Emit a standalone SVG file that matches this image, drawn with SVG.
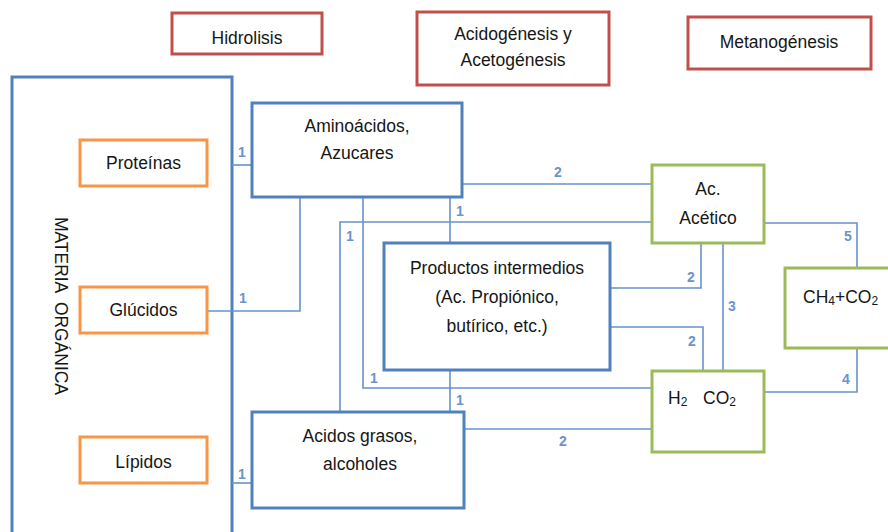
<svg xmlns="http://www.w3.org/2000/svg" width="888" height="532" viewBox="0 0 888 532">
<style>
.bb{fill:#fff;stroke:#4F81BD;stroke-width:3}
.ob{fill:#fff;stroke:#F79646;stroke-width:3}
.gb{fill:#fff;stroke:#9BBB59;stroke-width:3}
.rb{fill:#fff;stroke:#C0504D;stroke-width:3}
.t{font-family:"Liberation Sans",Arial,sans-serif;font-size:17.5px;fill:#161616;text-anchor:middle}
.tl{font-family:"Liberation Sans",Arial,sans-serif;font-size:17.5px;fill:#161616}
.c{fill:none;stroke:#6792CE;stroke-width:1.6}
.n{font-family:"Liberation Sans",Arial,sans-serif;font-size:14px;font-weight:bold;fill:#6B93CC}
</style>
<rect width="888" height="532" fill="#fff"/>
<g id="hidrolisis"><rect class="rb" x="172" y="13" width="150" height="41"/><text class="t" x="247" y="44">Hidrolisis</text></g>
<g id="acidogenesis"><rect class="rb" x="417" y="12" width="192" height="73"/><text class="t" x="513" y="40">Acidogénesis y</text><text class="t" x="513" y="66">Acetogénesis</text></g>
<g id="metanogenesis"><rect class="rb" x="688" y="17" width="183" height="52"/><text class="t" x="779" y="48">Metanogénesis</text></g>
<g id="materia"><rect class="bb" x="12" y="77" width="220" height="470"/><text class="tl" transform="translate(55,217) rotate(90)" x="0" y="0" font-size="16" textLength="178" lengthAdjust="spacing" xml:space="preserve">MATERIA  ORGÁNICA</text></g>
<g id="connectors">
<path class="c" d="M232 165H252"/>
<path class="c" d="M207 311H300V197"/>
<path class="c" d="M232 483H252"/>
<path class="c" d="M462 184H652"/>
<path class="c" d="M363 197V388H652"/>
<path class="c" d="M450 197V243"/>
<path class="c" d="M340 412V222H652"/>
<path class="c" d="M450 370V412"/>
<path class="c" d="M610 288H701V243"/>
<path class="c" d="M610 327H703V371"/>
<path class="c" d="M723 243V371"/>
<path class="c" d="M764 223H857V268"/>
<path class="c" d="M764 392H857V348"/>
<path class="c" d="M464 429H652"/>
<text class="n" x="238" y="157">1</text>
<text class="n" x="239" y="303">1</text>
<text class="n" x="238" y="479">1</text>
<text class="n" x="370" y="383">1</text>
<text class="n" x="456" y="405">1</text>
<text class="n" x="346" y="241">1</text>
<text class="n" x="456" y="216">1</text>
<text class="n" x="554" y="177">2</text>
<text class="n" x="687" y="282">2</text>
<text class="n" x="688" y="346">2</text>
<text class="n" x="728" y="311">3</text>
<text class="n" x="844" y="241">5</text>
<text class="n" x="842" y="384">4</text>
<text class="n" x="559" y="446">2</text>
</g>
<g id="proteinas"><rect class="ob" x="80" y="140" width="127" height="46"/><text class="t" x="143.5" y="169">Proteínas</text></g>
<g id="glucidos"><rect class="ob" x="80" y="287" width="127" height="46"/><text class="t" x="143.5" y="316">Glúcidos</text></g>
<g id="lipidos"><rect class="ob" x="80" y="437" width="127" height="46"/><text class="t" x="143.5" y="468">Lípidos</text></g>
<g id="aminoacidos"><rect class="bb" x="252" y="103" width="210" height="94"/><text class="t" x="357" y="132">Aminoácidos,</text><text class="t" x="357" y="159">Azucares</text></g>
<g id="productos"><rect class="bb" x="384" y="243" width="226" height="127"/><text class="t" x="497" y="274">Productos intermedios</text><text class="t" x="497" y="303">(Ac. Propiónico,</text><text class="t" x="497" y="332">butírico, etc.)</text></g>
<g id="acidos"><rect class="bb" x="252" y="412" width="212" height="96"/><text class="t" x="360" y="442">Acidos grasos,</text><text class="t" x="360" y="470">alcoholes</text></g>
<g id="acetico"><rect class="gb" x="652" y="165" width="112" height="78"/><text class="t" x="708" y="195">Ac.</text><text class="t" x="708" y="224">Acético</text></g>
<g id="h2co2"><rect class="gb" x="652" y="371" width="112" height="81"/><text class="tl" x="668" y="404">H<tspan font-size="12" dy="2">2</tspan></text><text class="tl" x="703" y="404">CO<tspan font-size="12" dy="2">2</tspan></text></g>
<g id="ch4co2"><rect class="gb" x="785" y="268" width="110" height="80"/><text class="tl" x="803" y="303">CH<tspan font-size="12" dy="2">4</tspan><tspan dy="-2">+CO</tspan><tspan font-size="12" dy="2">2</tspan></text></g>
</svg>
